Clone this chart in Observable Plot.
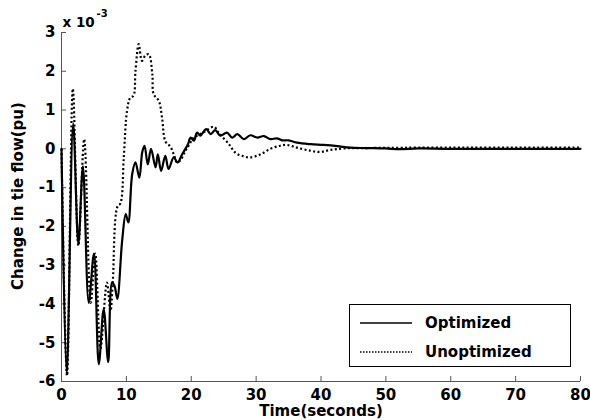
<!DOCTYPE html>
<html><head><meta charset="utf-8">
<script src="https://cdn.jsdelivr.net/npm/d3@7"></script>
<script src="https://cdn.jsdelivr.net/npm/@observablehq/plot@0.6"></script>
<style>
body{margin:0;background:#fff;}
#wrap{position:relative;width:590px;height:420px;font-family:"DejaVu Sans",sans-serif;font-weight:bold;}
#wrap svg text{font-family:"DejaVu Sans",sans-serif !important;font-weight:700 !important;}
#legend{position:absolute;left:349px;top:304px;width:220px;height:61px;border:1px solid #000;background:#fff;font-size:15px;}
#legend .row{position:absolute;left:0;display:flex;align-items:center;height:20px;}
#legend svg{margin-left:10px;}
#legend span{margin-left:13px;}
</style></head><body><div id="wrap"></div>
<script>
const xTicks = [0, 10, 20, 30, 40, 50, 60, 70, 80];
const yTicks = [-6, -5, -4, -3, -2, -1, 0, 1, 2, 3];
const xLabel = "Time(seconds)";
const yLabel = "Change in tie flow(pu)";
const seriesNames = ["Optimized", "Unoptimized"];

// Optimized (solid), values in units of 1e-3 pu
const tOpt = [0, 0.8, 1.8, 2.6, 3.3, 4.2, 5.0, 5.75, 6.5, 7.2, 7.8, 8.2, 8.6, 9.35, 9.9, 10.3, 10.9, 11.4, 12.0, 12.45, 12.8, 13.3, 13.8, 14.5, 14.85, 15.35, 16.0, 16.5, 17.3, 17.9, 18.6, 19.1, 19.5, 19.9, 20.4, 20.9, 21.4, 22.3, 23.0, 23.7, 24.5, 25.5, 26.3, 27.1, 28.1, 29.1, 30.2, 31.2, 32.2, 33.2, 34.0, 35.0, 36.3, 38.4, 40.4, 42.5, 44.5, 47, 50, 52, 55, 60, 70, 80];
const vOpt = [0, -5.8, 0.65, -2.45, -0.45, -3.97, -2.7, -5.55, -4.13, -5.5, -3.45, -3.55, -3.87, -2.37, -1.68, -1.9, -0.65, -0.35, -0.74, -0.08, 0.08, -0.4, 0, -0.48, -0.14, -0.57, -0.18, -0.52, -0.22, -0.35, -0.14, 0, 0.12, 0.29, 0.21, 0.42, 0.34, 0.51, 0.38, 0.48, 0.34, 0.42, 0.29, 0.38, 0.25, 0.35, 0.29, 0.33, 0.25, 0.27, 0.22, 0.22, 0.16, 0.12, 0.1, 0.07, 0.03, 0.02, 0.01, -0.01, 0.01, 0, 0, 0];

// Unoptimized (dotted)
const tUnopt = [0, 0.85, 1.75, 2.6, 3.5, 4.5, 5.2, 6.0, 7.0, 7.55, 7.9, 8.6, 9.1, 9.6, 10.1, 10.6, 11.1, 11.4, 11.9, 12.4, 12.9, 13.45, 14.0, 14.2, 15.0, 15.5, 16.0, 16.8, 17.3, 17.8, 18.3, 19.1, 19.6, 20.4, 21.4, 22.2, 23.5, 24.2, 25.8, 26.8, 27.8, 29.1, 30.7, 32.2, 33.7, 34.8, 36.3, 38.4, 39.9, 41.4, 43.5, 47, 55, 80];
const vUnopt = [0, -5.85, 1.55, -2.5, 0.25, -3.97, -2.7, -5.15, -3.45, -4.18, -3.45, -1.5, -1.4, -0.22, 0.98, 1.32, 1.37, 2.0, 2.7, 2.27, 2.4, 2.44, 1.93, 1.41, 1.24, 0.8, 0.2, 0.05, -0.14, -0.35, -0.3, -0.05, 0.08, 0.29, 0.38, 0.46, 0.57, 0.42, 0.12, -0.1, -0.18, -0.22, -0.14, 0, 0.08, 0.1, 0.03, -0.05, -0.08, -0.03, 0.01, 0.02, 0.03, 0.03];

const optimized = tOpt.map((t, i) => ({t, v: vOpt[i]}));
const unoptimized = tUnopt.map((t, i) => ({t, v: vUnopt[i]}));

const axisColor = "#555";
const font = {fontFamily: "DejaVu Sans", fontWeight: "bold"};
const chart = Plot.plot({
  width: 590, height: 420,
  marginLeft: 61, marginRight: 10, marginTop: 32, marginBottom: 39,
  style: {fontFamily: "DejaVu Sans", fontSize: "15px", fontWeight: "bold", background: "white", color: "black", overflow: "visible"},
  x: {domain: [0, 80]},
  y: {domain: [-6, 3]},
  marks: [
    Plot.axisX(xTicks, {tickSize: -5, fill: "none", stroke: axisColor, label: null}),
    Plot.axisX(xTicks, {tickSize: 0, tickPadding: 8, label: null, tickFormat: d => String(d), fontSize: 15, ...font}),
    Plot.axisY(yTicks, {tickSize: -5, fill: "none", stroke: axisColor, label: null}),
    Plot.axisY(yTicks, {tickSize: 0, tickPadding: 6, label: null, tickFormat: d => String(d), fontSize: 15, ...font}),
    Plot.ruleX([0], {stroke: axisColor}),
    Plot.ruleY([-6], {stroke: axisColor}),
    Plot.line(unoptimized, {x: "t", y: "v", stroke: "black", strokeWidth: 2.2, strokeDasharray: "2,2.4", strokeLinecap: "butt", curve: "catmull-rom"}),
    Plot.line(optimized, {x: "t", y: "v", stroke: "black", strokeWidth: 2.2, curve: "catmull-rom"}),
    Plot.text([yLabel], {text: d => d, frameAnchor: "left", textAnchor: "middle", lineAnchor: "middle", rotate: -90, dx: -43, dy: -11, fontSize: 15, ...font}),
    Plot.text([xLabel], {text: d => d, frameAnchor: "bottom", textAnchor: "middle", lineAnchor: "middle", dy: 30, fontSize: 15, ...font}),
    Plot.text(["x 10"], {text: d => d, frameAnchor: "top-left", textAnchor: "start", lineAnchor: "middle", dx: 1, dy: -10, fontSize: 13.5, ...font}),
    Plot.text(["-3"], {text: d => d, frameAnchor: "top-left", textAnchor: "start", lineAnchor: "middle", dx: 35, dy: -19, fontSize: 10, ...font})
  ]
});
const wrap = document.getElementById("wrap");
wrap.appendChild(chart);

const legend = document.createElement("div");
legend.id = "legend";
const dashes = ["", "1.5,1.5"];
seriesNames.forEach((name, i) => {
  const row = document.createElement("div");
  row.className = "row";
  row.style.top = (8 + i * 29) + "px";
  row.innerHTML = `<svg width="52" height="6"><line x1="0" x2="52" y1="3" y2="3" stroke="black" stroke-width="1.5" ${dashes[i] ? `stroke-dasharray="${dashes[i]}"` : ""}/></svg><span>${name}</span>`;
  legend.appendChild(row);
});
wrap.appendChild(legend);
</script></body></html>
